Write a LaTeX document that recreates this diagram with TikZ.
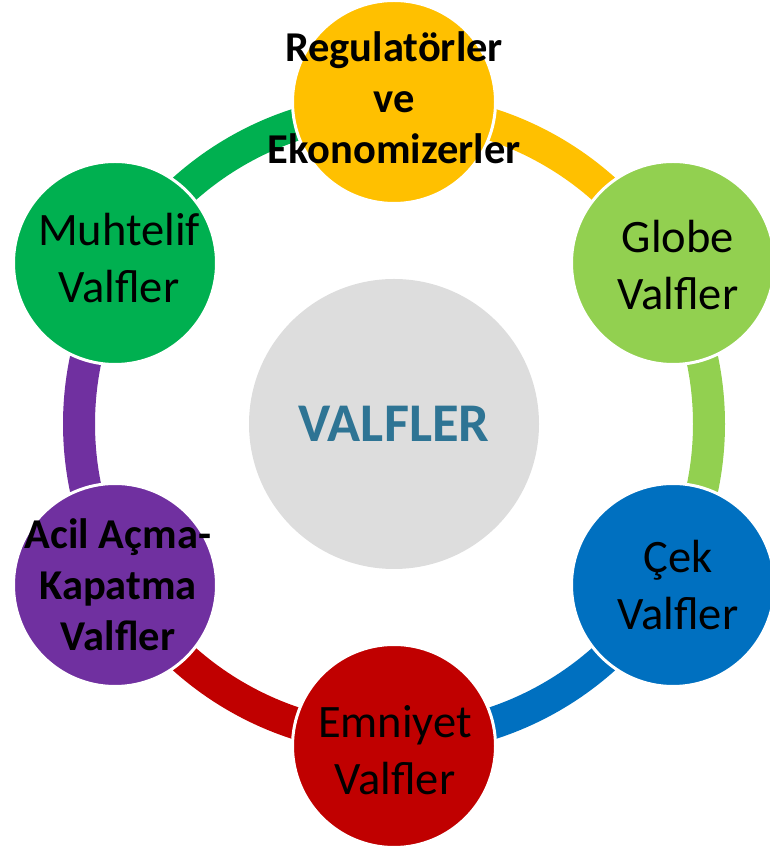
\documentclass[tikz,border=0pt]{standalone}
\usepackage{fontspec}
\setmainfont{Carlito}
\definecolor{cYel}{HTML}{FFC000}
\definecolor{cLgr}{HTML}{92D050}
\definecolor{cBlu}{HTML}{0070C0}
\definecolor{cRed}{HTML}{C00000}
\definecolor{cPur}{HTML}{7030A0}
\definecolor{cGrn}{HTML}{00B050}
\definecolor{cGray}{HTML}{DDDDDD}
\definecolor{cTxt}{HTML}{2E7494}
\begin{document}
\begin{tikzpicture}[x=1pt,y=1pt,
  bub/.style={circle, minimum size=203pt, inner sep=0pt, draw=white, line width=3pt},
  reg/.style={align=center, inner sep=0pt, text=black, font=\fontsize{46.5}{57}\selectfont},
  bld/.style={align=center, inner sep=0pt, text=black, font=\fontsize{42.5}{51}\selectfont\bfseries},
  ringseg/.style={line width=32pt}]
\useasboundingbox (0,0) rectangle (769,848);
\coordinate (O) at (394,424);
% ring segments
\draw[ringseg, cYel] ([shift={(90:315pt)}]O) arc[start angle=90, end angle=30, radius=315pt];
\draw[ringseg, cLgr] ([shift={(30:315pt)}]O) arc[start angle=30, end angle=-30, radius=315pt];
\draw[ringseg, cBlu] ([shift={(-30:315pt)}]O) arc[start angle=-30, end angle=-90, radius=315pt];
\draw[ringseg, cRed] ([shift={(-90:315pt)}]O) arc[start angle=-90, end angle=-150, radius=315pt];
\draw[ringseg, cPur] ([shift={(210:315pt)}]O) arc[start angle=210, end angle=150, radius=315pt];
\draw[ringseg, cGrn] ([shift={(150:315pt)}]O) arc[start angle=150, end angle=90, radius=315pt];
% centre
\node[circle, minimum size=290pt, inner sep=0pt, fill=cGray] (ctr) at (O) {};
\node[text=cTxt, font=\fontsize{54.5}{65}\selectfont\bfseries] (tctr) at (O) {VALFLER};
% outer circles
\node[bub, fill=cYel] (c1) at (394,746) {};
\node[bub, fill=cLgr] (c2) at (673,585) {};
\node[bub, fill=cBlu] (c3) at (673,263) {};
\node[bub, fill=cRed] (c4) at (394,102) {};
\node[bub, fill=cPur] (c5) at (115,263) {};
\node[bub, fill=cGrn] (c6) at (115,585) {};
% texts
\node[bld] (t1) at ([yshift=4pt]c1) {Regulatörler\\ve\\Ekonomizerler};
\node[reg] (t2) at ([xshift=5pt,yshift=-2pt]c2) {Globe\\Valfler};
\node[reg] (t3) at ([xshift=5pt]c3) {Çek\\Valfler};
\node[reg] (t4) at ([xshift=1pt,yshift=-4pt]c4) {Emniyet\\Valfler};
\node[bld] (t5) at ([xshift=3pt]c5) {Acil Açma-\\Kapatma\\Valfler};
\node[reg] (t6) at ([xshift=4pt,yshift=5pt]c6) {Muhtelif\\Valfler};
\end{tikzpicture}
\end{document}
